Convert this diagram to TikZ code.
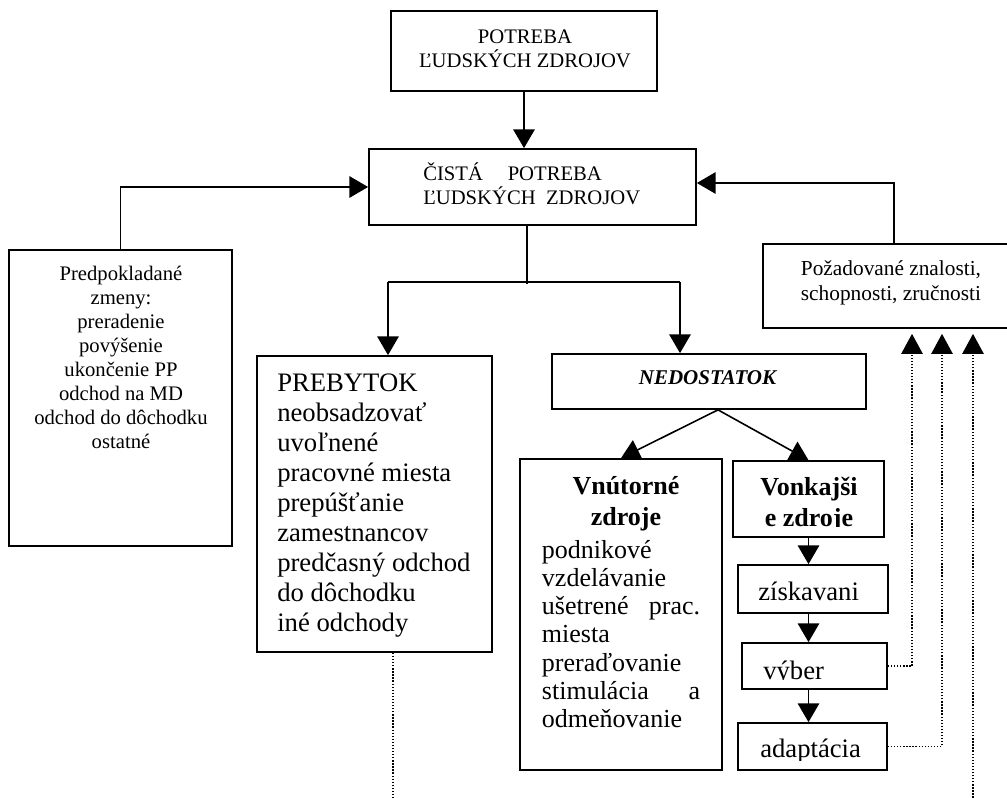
\documentclass[tikz,border=0pt]{standalone}
\usepackage{fontspec}
\setmainfont{Liberation Serif}
\usetikzlibrary{arrows.meta,fit,calc}
\newcommand\topst{\vrule height 1em depth 0pt width 0pt}
\tikzset{
  frame/.style={draw, line width=1.3pt, inner sep=0pt},
  conn/.style={line width=1.2pt},
  arr/.style={conn, -{Triangle[length=14pt,width=16pt]}},
  dline/.style={line width=1.1pt, dash pattern=on 1pt off 1.3pt},
  darr/.style={dline, -{Triangle[length=15pt,width=16pt]}},
  small/.style={font=\fontsize{15.5}{18}\selectfont, inner sep=0pt},
  body/.style={font=\fontsize{20}{22.5}\selectfont, inner sep=0pt},
  bodyb/.style={font=\fontsize{19.5}{23.25}\selectfont\bfseries, inner sep=0pt},
}
\begin{document}
\begin{tikzpicture}[x=0.75pt,y=-0.75pt]
\useasboundingbox (0,0) rectangle (1007,798);
% frames
\node[frame, fit={(391,11) (657,91)}] (need) {};
\node[frame, fit={(369,149) (696,225)}] (cista) {};
\node[frame, fit={(9,250) (232,546)}] (lb) {};
\node[frame, fit={(763,244) (1025,328)}] (poz) {};
\node[frame, fit={(257,356) (492,652)}] (preb) {};
\node[frame, fit={(552,354) (866,409)}] (nedo) {};
\node[frame, fit={(520,459) (722,770)}] (vnu) {};
\node[frame, fit={(733,461) (884,537)}] (vonk) {};
\node[frame, fit={(738,565) (888,613)}] (zisk) {};
\node[frame, fit={(742,643) (887,689)}] (vyber) {};
\node[frame, fit={(738,723) (887,770)}] (adapt) {};
% texts
\node[small, anchor=north, align=center] (needt) at (525,22.3) {\topst POTREBA\\ĽUDSKÝCH ZDROJOV};
\node[small, anchor=north west, align=left] (cistat) at (423,159.3) {\topst ČISTÁ\hspace{1.2em}POTREBA\\ĽUDSKÝCH\hspace{0.5em}ZDROJOV};
\node[small, anchor=north, align=center] (lbt) at (121,259.3) {\topst Predpokladané\\zmeny:\\preradenie\\povýšenie\\ukončenie PP\\odchod na MD\\odchod do dôchodku\\ostatné};
\node[inner sep=0pt, font=\fontsize{16}{18.75}\selectfont, anchor=north, align=center] (pozt) at (891,253.7) {\topst Požadované znalosti,\\schopnosti, zručnosti};
\node[body, anchor=north west, align=left] (prebt) at (277,364.3) {\topst PREBYTOK\\neobsadzovať\\uvoľnené\\pracovné miesta\\prepúšťanie\\zamestnancov\\predčasný odchod\\do dôchodku\\iné odchody};
\node[inner sep=0pt, font=\fontsize{15.75}{18}\selectfont\bfseries\itshape, anchor=base] (nedot) at (707.5,385) {NEDOSTATOK};
\node[bodyb, anchor=north, align=center] (vnut1) at (626,468) {\topst Vnútorné\\zdroje};
\node[inner sep=0pt, font=\fontsize{19.5}{21.15}\selectfont, anchor=north west, text width=118.7pt, align=left] (vnut2) at (541.7,532) {\noindent\topst podnikové\\vzdelávanie\\ušetrené\hfill prac.\\miesta\\preraďovanie\\stimulácia\hfill a\\odmeňovanie};
\begin{scope}
\clip (733,461) rectangle (884,526.8);
\node[bodyb, anchor=north, align=center] (vonkt) at (809,469) {\topst Vonkajši\\e zdroje};
\end{scope}
\node[body, anchor=base west] (ziskt) at (758,600) {získavani};
\begin{scope}
\clip (742,643) rectangle (887,679.3);
\node[body, anchor=base west] (vybert) at (763,679) {výber};
\end{scope}
\begin{scope}
\clip (738,723) rectangle (887,760);
\node[body, anchor=base west] (adaptt) at (760,757) {adaptácia};
\end{scope}
% connectors
\draw[arr] (need.south) -- (need.south |- cista.north);
\draw[arr] (lb.north) |- (cista.west);
\draw[arr] (poz.north) |- ($(cista.east)+(0,-4)$);
\coordinate (sp) at ($(cista.south)+(-5.5,58)$);
\draw[conn] ($(cista.south)+(-5.5,0)$) -- (sp);
\coordinate (jl) at ($(preb.north)+(13.5,-73)$);
\coordinate (jr) at ($(nedo.north)+(-29,-71)$);
\draw[conn] (jl) -- (jr);
\draw[arr] (jl) -- (jl |- preb.north);
\draw[arr] (jr) -- (jr |- nedo.north);
\coordinate (nd) at ($(nedo.south)+(9,0)$);
\draw[arr] (nd) -- (vnu.north);
\draw[arr] (nd) -- (vonk.north);
\draw[arr] (vonk.south) -- (vonk.south |- zisk.north);
\draw[arr] (vonk.south |- zisk.south) -- (vonk.south |- vyber.north);
\draw[arr] (vonk.south |- vyber.south) -- (vonk.south |- adapt.north);
\coordinate (pz) at ($(poz.south)+(0,5)$);
\draw[darr] (vyber.east) -| ($(pz)+(18,0)$);
\draw[darr] (adapt.east) -| ($(pz)+(48,0)$);
\coordinate (d3) at ($(pz)+(79,467)$);
\draw[darr] (d3) -- (d3 |- pz);
\coordinate (d0) at ($(preb.south)+(18.5,148)$);
\draw[dline] ($(preb.south)+(18.5,0)$) -- (d0);
\end{tikzpicture}
\end{document}
